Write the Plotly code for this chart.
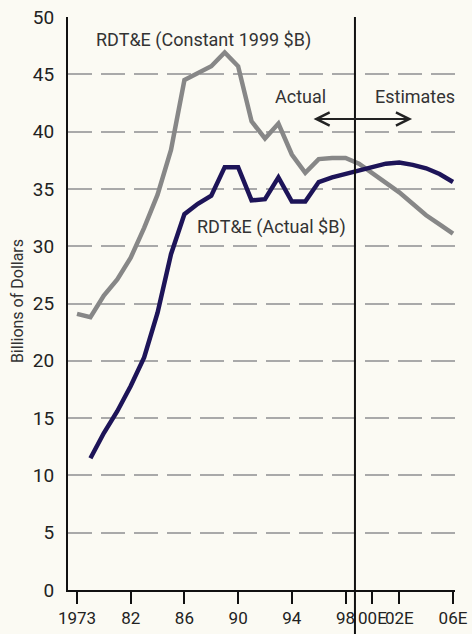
import plotly.graph_objects as go

# ---- data ----
years = ["1973", "79", "80", "81", "82", "83", "84", "85", "86", "87", "88", "89",
         "90", "91", "92", "93", "94", "95", "96", "97", "98", "99",
         "00E", "01E", "02E", "03E", "04E", "05E", "06E"]
constant_1999 = [24.1, 23.8, 25.7, 27.1, 29.0, 31.6, 34.5, 38.4, 44.5, 45.1, 45.7, 46.9,
                 45.7, 40.9, 39.4, 40.7, 38.0, 36.4, 37.6, 37.7, 37.7, 37.2,
                 36.4, 35.5, 34.7, 33.7, 32.7, 31.9, 31.1]
actual_dollars = [None, 11.5, 13.7, 15.6, 17.8, 20.3, 24.2, 29.3, 32.8, 33.7, 34.4, 36.9,
                  36.9, 34.0, 34.1, 36.0, 33.9, 33.9, 35.6, 36.0, 36.3, 36.7,
                  37.0, 37.2, 37.3, 37.1, 36.8, 36.3, 35.6]
tick_years = ["1973", "82", "86", "90", "94", "98", "00E", "02E", "06E"]
y_ticks = [0, 5, 10, 15, 20, 25, 30, 35, 40, 45, 50]
divider_year = "99"

FONT = "Roboto, Liberation Sans, sans-serif"
BG = "#fbfaf3"

fig = go.Figure()
fig.add_trace(go.Scatter(x=years, y=constant_1999, mode="lines",
                         line=dict(color="#878787", width=4.5), showlegend=False))
fig.add_trace(go.Scatter(x=years, y=actual_dollars, mode="lines",
                         line=dict(color="#1d1458", width=4.5), showlegend=False))

fig.update_layout(
    width=472, height=634,
    margin=dict(l=68, r=17, t=17, b=44),
    paper_bgcolor=BG, plot_bgcolor=BG,
    font=dict(family=FONT, color="#222"),
    xaxis=dict(type="category", categoryorder="array", categoryarray=years,
               range=[-0.67, 28.15], tickmode="array", tickvals=tick_years,
               ticktext=tick_years, tickangle=0, ticks="outside", ticklen=12,
               tickwidth=2, tickcolor="#111", showgrid=False, showline=True,
               linecolor="#111", linewidth=2, automargin=False,
               tickfont=dict(size=17, family=FONT, color="#222"),
               fixedrange=True),
    yaxis=dict(range=[0, 50], tickmode="array", tickvals=y_ticks, ticks="",
               showline=True, linecolor="#111", linewidth=2, zeroline=False,
               showgrid=True, gridcolor="#a9a9a9", gridwidth=2,
               griddash="24px,9px", ticklabelstandoff=8, automargin=False,
               tickfont=dict(size=19, family=FONT, color="#222"), fixedrange=True),
)

# divider between actual and estimates (just before the 1999 category point)
div_idx = years.index(divider_year) - 0.3
fig.add_shape(type="line", xref="x", yref="paper", x0=div_idx, x1=div_idx,
              y0=-0.08, y1=1.0, line=dict(color="#111", width=2), layer="above")


def label(text, x, y, size=18, angle=0):
    fig.add_annotation(text=text, xref="paper", yref="paper", x=x, y=y,
                       xanchor="center", yanchor="middle", showarrow=False,
                       textangle=angle, font=dict(family=FONT, size=size, color="#333"))


label("RDT&E (Constant 1999 $B)", 0.351, 0.96)
label("RDT&E (Actual $B)", 0.527, 0.634)
label("Actual", 0.60, 0.862)
label("Estimates", 0.897, 0.862)
label("Billions of Dollars", -0.132, 0.504, size=16, angle=-90)

fig.add_annotation(text="", xref="paper", yref="paper", x=0.889, y=0.822,
                   ax=-100, ay=0, axref="pixel", ayref="pixel", showarrow=True,
                   arrowhead=5, startarrowhead=5, arrowside="end+start",
                   arrowwidth=2, arrowsize=1.3, startarrowsize=1.3, arrowcolor="#222")

fig.write_html("out.html")
